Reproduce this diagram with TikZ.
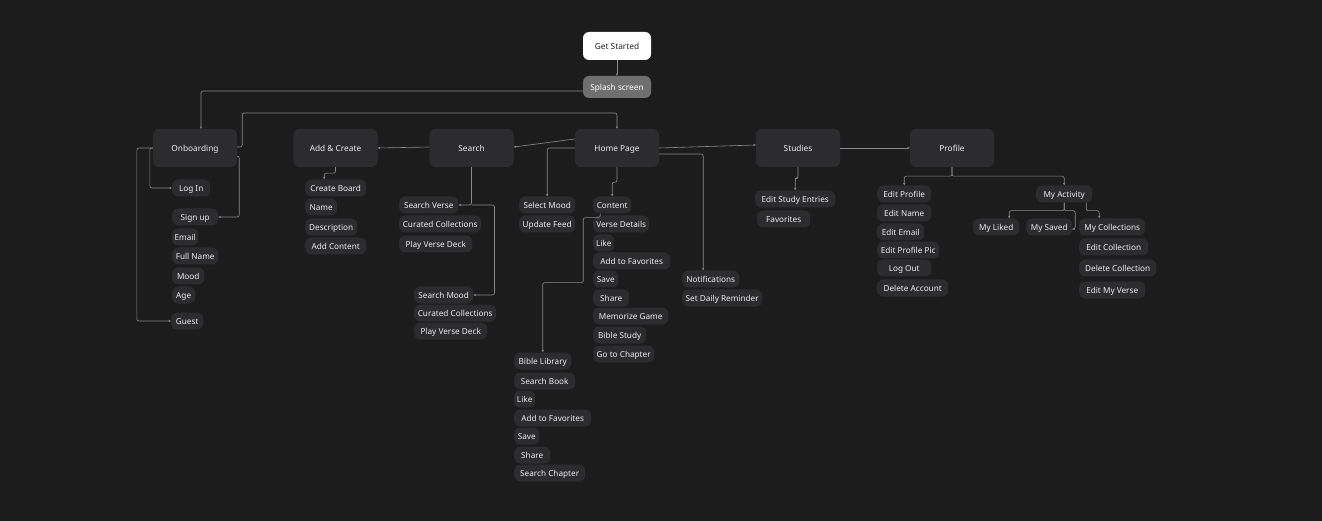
\documentclass[tikz,border=0pt]{standalone}
\usepackage{fontspec}
\setmainfont{Noto Sans}
\usetikzlibrary{arrows.meta}
\definecolor{bg}{HTML}{1C1C1C}
\definecolor{boxc}{HTML}{2C2C2E}
\definecolor{linec}{HTML}{8A8A8A}
\definecolor{txt}{HTML}{EEEEEE}
\definecolor{splashc}{HTML}{6F6F6F}
\definecolor{darktxt}{HTML}{222222}
\begin{document}
\begin{tikzpicture}[x=1pt,y=-1pt,
  big/.style={fill=boxc, rounded corners=6pt, minimum width=84pt, minimum height=38pt, text=txt, font=\fontsize{8.3}{9}\selectfont, inner sep=0pt, text height=0.72em, text depth=0pt},
  pill/.style={fill=boxc, rounded corners=6pt, minimum height=17pt, text=txt, font=\fontsize{8.2}{9}\selectfont, inner sep=0pt, anchor=west, text height=0.72em, text depth=0pt},
  pw/.style={minimum width=#1pt},
  conn/.style={draw=linec, line width=0.6pt, rounded corners=2pt},
  arr/.style={conn, -{Stealth[length=2.6pt,width=2.4pt]}},
]
\fill[bg] (0,0) rectangle (1322,521);
\useasboundingbox (0,0) rectangle (1322,521);

% main nodes
\node[big, fill=white, text=darktxt, minimum width=68pt, minimum height=28pt] (gs) at (617,46) {Get Started};
\node[big, fill=splashc, text=white, minimum width=68pt, minimum height=22pt] (splash) at (617,87) {Splash screen};
\node[big] (onb) at (195,148) {Onboarding};
\node[big] (add) at (335.5,148) {Add \& Create};
\node[big] (search) at (471.5,148) {Search};
\node[big] (home) at (617,148) {Home Page};
\node[big] (studies) at (798,148) {Studies};
\node[big] (profile) at (952,148) {Profile};

% onboarding
\node[pill, pw=38] (login) at (172,188) {Log In};
\node[pill, pw=46] (signup) at (172,217) {Sign up};
\node[pill, pw=26] (email) at (172,237) {Email};
\node[pill, pw=46] (fullname) at (172,256) {Full Name};
\node[pill, pw=32] (mood) at (172,276) {Mood};
\node[pill, pw=23] (age) at (172,295) {Age};
\node[pill, pw=32] (guest) at (171,321) {Guest};

% add & create
\node[pill, pw=61] (cboard) at (305,188) {Create Board};
\node[pill, pw=32] (aname) at (305,207) {Name};
\node[pill, pw=52] (desc) at (305,227) {Description};
\node[pill, pw=61] (addc) at (305,246) {Add Content};

% search
\node[pill, pw=59] (sverse) at (399,205) {Search Verse};
\node[pill, pw=82] (cc1) at (399,224) {Curated Collections};
\node[pill, pw=73] (pvd1) at (399,244) {Play Verse Deck};
\node[pill, pw=59] (smood) at (414,295) {Search Mood};
\node[pill, pw=82] (cc2) at (414,313) {Curated Collections};
\node[pill, pw=73] (pvd2) at (414,331) {Play Verse Deck};

% home
\node[pill, pw=56] (selmood) at (519,205) {Select Mood};
\node[pill, pw=56] (upfeed) at (519,224) {Update Feed};
\node[pill, pw=38] (content) at (593,205) {Content};
\node[pill, pw=56] (vdet) at (593,224) {Verse Details};
\node[pill, pw=21] (like1) at (593,243) {Like};
\node[pill, pw=77] (fav1) at (593,261) {Add to Favorites};
\node[pill, pw=25] (save1) at (593,279) {Save};
\node[pill, pw=36] (share1) at (593,298) {Share};
\node[pill, pw=75] (memo) at (593,316) {Memorize Game};
\node[pill, pw=53] (bstudy) at (593,335) {Bible Study};
\node[pill, pw=61] (gochap) at (593,354) {Go to Chapter};
\node[pill, pw=57] (notif) at (682,279) {Notifications};
\node[pill, pw=80] (reminder) at (682,298) {Set Daily Reminder};

\node[pill, pw=57] (blib) at (514,361) {Bible Library};
\node[pill, pw=61] (sbook) at (514,381) {Search Book};
\node[pill, pw=21] (like2) at (514,399) {Like};
\node[pill, pw=77] (fav2) at (514,418) {Add to Favorites};
\node[pill, pw=25] (save2) at (514,436) {Save};
\node[pill, pw=36] (share2) at (514,455) {Share};
\node[pill, pw=71] (schap) at (514,473) {Search Chapter};

% studies
\node[pill, pw=80] (ese) at (755,199) {Edit Study Entries};
\node[pill, pw=53] (favs) at (757,219) {Favorites};

% profile
\node[pill, pw=54] (eprof) at (877,194) {Edit Profile};
\node[pill, pw=54] (ename) at (877,213) {Edit Name};
\node[pill, pw=47] (eemail) at (877,232) {Edit Email};
\node[pill, pw=62] (epic) at (877,250) {Edit Profile Pic};
\node[pill, pw=54] (logout) at (877,268) {Log Out};
\node[pill, pw=71] (delacc) at (877,288) {Delete Account};
\node[pill, pw=56] (myact) at (1036,194) {My Activity};
\node[pill, pw=46] (liked) at (973,227) {My Liked};
\node[pill, pw=46] (saved) at (1026,227) {My Saved};
\node[pill, pw=66] (mycoll) at (1079,227) {My Collections};
\node[pill, pw=69] (ecoll) at (1079,247) {Edit Collection};
\node[pill, pw=77] (dcoll) at (1079,268) {Delete Collection};
\node[pill, pw=66] (emv) at (1079,290) {Edit My Verse};

% connectors
\draw[arr] (gs.south) -- (splash.north);
\draw[arr] ([yshift=-4pt]splash.west) -| ([xshift=6pt]onb.north);
\draw[arr] ([yshift=1pt]onb.east) -- ++(5,0) -- ++(0,-34) -| (home.north);
\draw[arr] ([yshift=-8pt]onb.east) -- ++(2,0) |- (signup.east);
\draw[arr] (onb.west) -- ++(-3,0) |- (login.west);
\draw[arr] (onb.west) -- ++(-16,0) |- (guest.west);
\draw[arr] ([yshift=1pt]search.west) -- (add.east);
\draw[arr] ([yshift=9pt]home.west) -- ([yshift=1pt]search.east);
\draw[arr] (home.west) -| (selmood.north);
\draw[arr] (home.south) -- ++(0,15) -| (content.north);
\draw[arr] (home.east) -- ([yshift=3pt]studies.west);
\draw[arr] ([yshift=-6pt]home.east) -| ([xshift=-7.5pt]notif.north);
\draw[arr] (search.south) |- (sverse.east);
\draw[arr] (sverse.east -| search.south) -- ++(23,0) |- (smood.east);
\draw[arr] (add.south) -- ++(0,6) -| ([xshift=-11.5pt]cboard.north);
\draw[arr] ([xshift=-12pt]content.south) -- ++(0,4) -- ++(-17,0) -- ++(0,65) -| (blib.north);
\draw[arr] (studies.south) -- ++(0,11) -| (ese.north);
\draw[arr] (studies.east) -- (profile.west);
\draw[arr] (profile.south) -- ++(0,9) -| (eprof.north);
\draw[arr] (profile.south) -- ++(0,9) -| (myact.north);
\draw[arr] (myact.south) -- ++(0,8) -| ([xshift=13pt]liked.north);
\draw[arr] (myact.south) -- ++(0,8) -- ++(11,0) |- ([yshift=-2pt]saved.east);
\draw[arr] ([xshift=22pt]myact.south) -- ++(0,8) -| ([xshift=-13pt]mycoll.north);
\end{tikzpicture}
\end{document}
